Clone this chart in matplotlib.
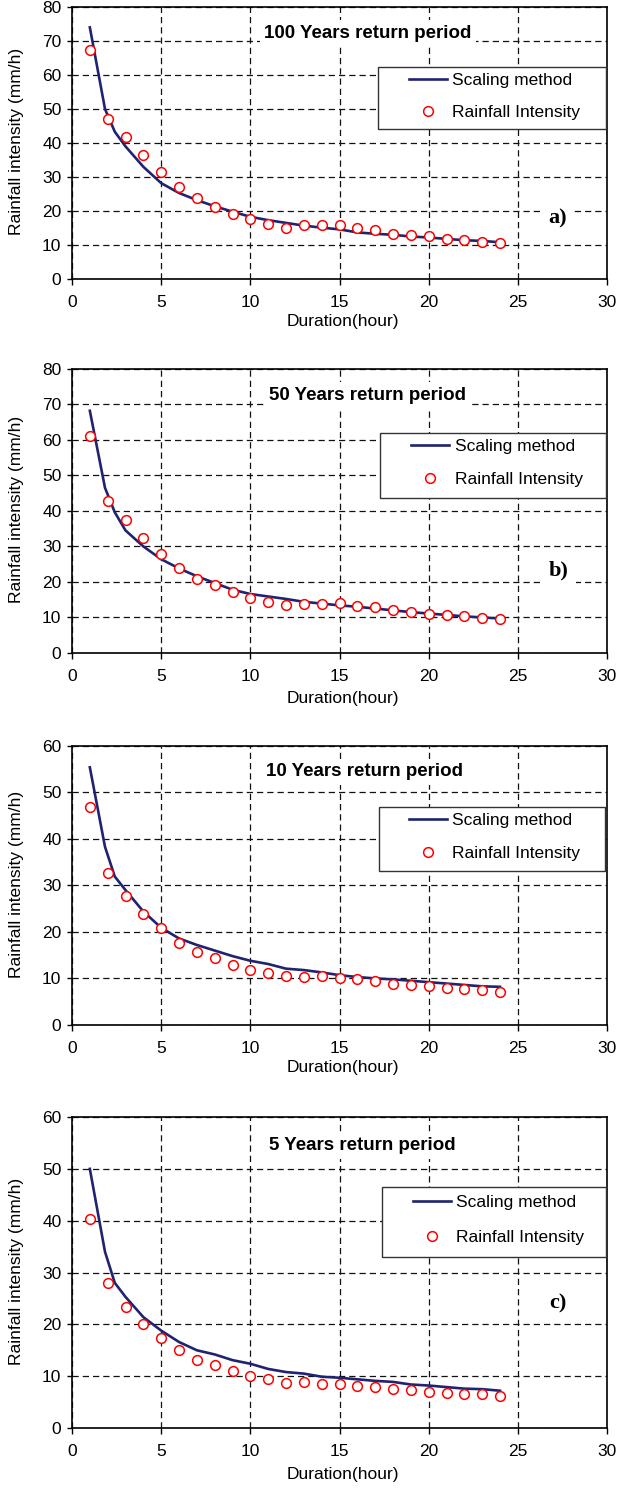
import numpy as np
import matplotlib
matplotlib.use("Agg")
import matplotlib.pyplot as plt
from matplotlib.patches import Rectangle

plt.rcParams['font.family'] = ['Liberation Sans', 'DejaVu Sans']

# durations (hours) of the observed intensities
dur = list(range(1, 25))
# vertices of the scaling-method curve
dur_line = [1, 1.85, 2.4] + list(range(3, 25))

titles = ['100 Years return period', '50 Years return period',
          '10 Years return period', '5 Years return period']
tags = ['a)', 'b)', None, 'c)']
ymax = [80, 80, 60, 60]

# rainfall intensity (mm/h), circles
obs_100 = [67.4, 47.2, 41.8, 36.5, 31.5, 27.0, 23.7, 21.2, 19.1, 17.5, 16.3, 15.0,
           15.8, 15.8, 15.8, 15.0, 14.3, 13.3, 12.9, 12.5, 11.8, 11.4, 10.9, 10.5]
obs_50 = [61.1, 42.7, 37.4, 32.4, 28.0, 23.8, 20.9, 19.2, 17.3, 15.6, 14.4, 13.6,
          13.9, 13.9, 14.1, 13.1, 12.8, 12.0, 11.5, 11.1, 10.6, 10.3, 9.9, 9.6]
obs_10 = [46.9, 32.6, 27.8, 23.8, 20.8, 17.7, 15.6, 14.4, 12.9, 11.9, 11.1, 10.5,
          10.4, 10.5, 10.1, 9.8, 9.5, 8.9, 8.6, 8.3, 8.0, 7.8, 7.5, 7.1]
obs_5 = [40.3, 27.9, 23.3, 20.0, 17.3, 15.0, 13.1, 12.2, 11.0, 10.0, 9.5, 8.7,
         8.9, 8.5, 8.5, 8.2, 8.0, 7.6, 7.4, 7.0, 6.7, 6.5, 6.5, 6.1]

# scaling method curve
fit_100 = [74.0, 50.0, 43.3, 39.0, 33.0, 28.2, 25.3, 23.2, 21.4, 19.8, 18.3, 17.3,
           16.5, 15.7, 15.1, 14.6, 13.7, 13.3, 13.0, 12.5, 12.2, 11.8, 11.4, 11.2, 10.8]
fit_50 = [68.2, 46.5, 39.6, 34.5, 30.0, 26.4, 23.8, 21.6, 19.7, 17.8, 16.6, 15.9,
          15.2, 14.4, 13.9, 13.4, 13.0, 12.5, 12.0, 11.5, 11.1, 10.7, 10.3, 10.0, 9.7]
fit_10 = [55.4, 38.3, 31.9, 29.0, 24.4, 20.9, 18.6, 17.2, 16.0, 14.8, 13.8, 13.1,
          12.1, 11.8, 11.3, 10.7, 10.3, 10.0, 9.8, 9.5, 9.2, 8.9, 8.6, 8.3, 8.2]
fit_5 = [50.0, 34.0, 28.0, 25.3, 21.4, 18.8, 16.6, 15.0, 14.2, 13.1, 12.4, 11.4,
         10.8, 10.5, 9.9, 9.7, 9.4, 9.1, 8.9, 8.4, 8.2, 7.9, 7.6, 7.5, 7.2]

obs_all = [obs_100, obs_50, obs_10, obs_5]
fit_all = [fit_100, fit_50, fit_10, fit_5]

fig = plt.figure(figsize=(6.35, 14.88), dpi=100)

# axes rectangles (figure fraction)
boxes = [[0.1134, 0.8125, 0.8425, 0.1828],
         [0.1134, 0.5612, 0.8425, 0.1909],
         [0.1134, 0.3112, 0.8425, 0.1875],
         [0.1134, 0.0403, 0.8425, 0.2090]]
# legend frame (x0, y0, x1, y1), legend centre y, handle x, row spacing
leg_frame = [(0.572, 0.551, 0.998, 0.779), (0.576, 0.546, 0.998, 0.775),
             (0.574, 0.552, 0.996, 0.781), (0.579, 0.550, 0.998, 0.775)]
leg_cy = [0.671, 0.668, 0.674, 0.670]
leg_hx = [0.630, 0.634, 0.630, 0.637]
leg_sp = [1.0, 1.05, 1.0, 1.15]
title_pos = [(0.553, 0.904), (0.553, 0.908), (0.546, 0.907), (0.543, 0.907)]
tag_pos = [(0.908, 0.224), (0.910, 0.289), None, (0.908, 0.402)]
xlab_y = [-0.158, -0.162, -0.154, -0.151]

navy = '#1f2370'

for i in range(4):
    ax = fig.add_axes(boxes[i])
    ax.set_axisbelow(True)
    ax.plot(dur_line, fit_all[i], color=navy, lw=1.9, zorder=2, label='Scaling method')
    ax.plot(dur, obs_all[i], 'o', ms=7, mfc='white', mec='red', mew=1.1,
            zorder=3, label='Rainfall Intensity')
    ax.set_xlim(0, 30)
    ax.set_ylim(0, ymax[i])
    ax.set_xticks(range(0, 31, 5))
    ax.set_yticks(range(0, ymax[i] + 1, 10))
    ax.grid(True, color='#111111', lw=0.9, ls=(0, (5, 3.2)))
    for s in ax.spines.values():
        s.set_linewidth(1.2)
        s.set_color('black')
    ax.tick_params(axis='x', direction='out', length=4.5, width=1, labelsize=12.5, pad=7)
    ax.tick_params(axis='y', direction='out', length=3.6, width=1, labelsize=12.5, pad=4)

    ax.set_ylabel('Rainfall intensity (mm/h)', fontsize=12.5)
    ax.yaxis.set_label_coords(-0.09, 0.505)
    ax.set_xlabel('Duration(hour)', fontsize=12.5)
    ax.xaxis.label.set_va('center')
    ax.xaxis.set_label_coords(0.506, xlab_y[i])

    tx, ty = title_pos[i]
    ax.text(tx, ty, titles[i], transform=ax.transAxes, ha='center', va='center',
            fontsize=13.5, fontweight='bold', zorder=3,
            bbox=dict(facecolor='white', edgecolor='none', pad=3))
    if tags[i]:
        gx, gy = tag_pos[i]
        ax.text(gx, gy, tags[i], transform=ax.transAxes, ha='center', va='center',
                fontsize=16, fontweight='bold', family='Liberation Serif', zorder=3,
                bbox=dict(facecolor='white', edgecolor='none', pad=5))

    x0, y0, x1, y1 = leg_frame[i]
    ax.add_patch(Rectangle((x0, y0), x1 - x0, y1 - y0, transform=ax.transAxes,
                           facecolor='white', edgecolor='#333333', lw=1.0,
                           zorder=4, clip_on=False))
    leg = ax.legend(loc='center left', bbox_to_anchor=(leg_hx[i], leg_cy[i]),
                    frameon=False, fontsize=12.5, borderpad=0, borderaxespad=0,
                    handlelength=2.2, handletextpad=0.3, labelspacing=leg_sp[i])
    leg.set_zorder(5)

fig.savefig('out.png', dpi=100)
